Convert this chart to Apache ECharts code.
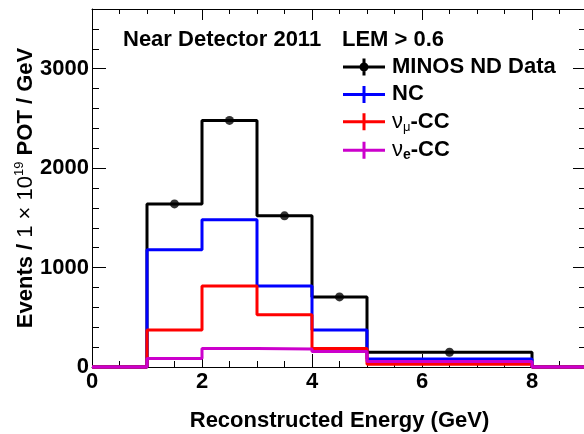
<!DOCTYPE html>
<html>
<head>
<meta charset="utf-8">
<script src="https://cdn.jsdelivr.net/npm/echarts@6/dist/echarts.min.js"></script>
<style>html,body{margin:0;padding:0;background:#fff;}#c{width:584px;height:434px;}</style>
</head>
<body>
<div id="c"></div>
<script>
// Bin edges (GeV) and per-bin contents (events / 1e19 POT / GeV)
const binEdges   = [0, 1, 2, 3, 4, 5, 8, 9];
const dataValues = [0, 1640, 2480, 1520, 705, 148, 0];
const ncValues   = [0, 1178, 1480, 814, 372, 80, 0];
const numuValues = [0, 372, 814, 525, 185, 27, 0];
const nueValues  = [0, 86, 187, 180, 157, 55, 0];

const seriesNames = ['MINOS ND Data', 'NC', 'numu-CC', 'nue-CC'];
const legendLabels = {
  'MINOS ND Data': '{a|MINOS ND Data}',
  'NC': '{a|NC}',
  'numu-CC': '{nu|ν}{sub|μ}{a|-CC}',
  'nue-CC': '{nu|ν}{sube|e}{a|-CC}'
};
const titleText = 'Near Detector 2011';
const cutText = 'LEM > 0.6';
const xTitle = 'Reconstructed Energy (GeV)';

const FONT = '"Liberation Sans", Arial, Helvetica, sans-serif';
const FS = 22;

function stepPoints(vals) {
  const pts = vals.map((v, i) => [binEdges[i], v]);
  pts.push([binEdges[binEdges.length - 1], vals[vals.length - 1]]);
  return pts;
}
function centers(vals) {
  const out = [];
  vals.forEach((v, i) => { if (v > 0) out.push([(binEdges[i] + binEdges[i + 1]) / 2, v]); });
  return out;
}

const crossIcon = 'path://M0,7h42v3H0z M19.5,0h3v17h-3z';
const dataIcon = 'path://M0,7h42v3H0z M19.5,0h3v17h-3z M16.5,8.5a4.5,4.5 0 1,1 9,0a4.5,4.5 0 1,1 -9,0z';

const axisLineStyle = { color: '#000', width: 1 };
const labelStyle = { fontFamily: FONT, fontWeight: 'bold', fontSize: FS, color: '#000' };

function histSeries(name, vals, color) {
  return {
    name: name, type: 'line', step: 'end', data: stepPoints(vals),
    showSymbol: false, symbol: 'none', clip: false,
    lineStyle: { color: color, width: 3 }, itemStyle: { color: color },
    xAxisIndex: 0, yAxisIndex: 0
  };
}
function frameAxis(base, opts) {
  return Object.assign({
    type: 'value', splitLine: { show: false }, axisLabel: { show: false },
    axisLine: { show: false, onZero: false }
  }, base, opts);
}

const xBase = { min: 0, max: 9 };
const yBase = { min: 0, max: 3600 };

const chart = echarts.init(document.getElementById('c'), null, { renderer: 'canvas' });
chart.setOption({
  animation: false,
  backgroundColor: '#fff',
  grid: { left: 92, top: 9, width: 495, height: 358, containLabel: false, outerBoundsMode: 'none' },
  title: [
    { text: titleText, left: 123, top: 29, padding: 0, textStyle: { fontFamily: FONT, fontWeight: 'bold', fontSize: FS, color: '#000' } },
    { text: cutText, left: 342, top: 29, padding: 0, textStyle: { fontFamily: FONT, fontWeight: 'bold', fontSize: FS, color: '#000' } }
  ],
  legend: {
    orient: 'vertical', left: 343, top: 56, padding: 0,
    itemWidth: 42, itemHeight: 17, itemGap: 5.4,
    symbolKeepAspect: true,
    selectedMode: false,
    itemStyle: { borderWidth: 0 },
    data: [
      { name: seriesNames[0], icon: dataIcon },
      { name: seriesNames[1], icon: crossIcon },
      { name: seriesNames[2], icon: crossIcon },
      { name: seriesNames[3], icon: crossIcon }
    ],
    formatter: n => legendLabels[n],
    textStyle: {
      fontFamily: FONT, fontWeight: 'bold', fontSize: FS, color: '#000', padding: [0, 0, 0, 2],
      rich: {
        a: { fontFamily: FONT, fontWeight: 'bold', fontSize: FS, lineHeight: 24, color: '#000' },
        nu: { fontFamily: FONT, fontWeight: 'normal', fontSize: FS, lineHeight: 24, color: '#000' },
        sub: { fontFamily: FONT, fontWeight: 'normal', fontSize: 13, lineHeight: 13, verticalAlign: 'bottom', color: '#000' },
        sube: { fontFamily: FONT, fontWeight: 'bold', fontSize: 14, lineHeight: 14, verticalAlign: 'bottom', color: '#000' }
      }
    }
  },
  xAxis: [
    frameAxis(xBase, {
      interval: 2, position: 'bottom',
      axisLine: { show: true, onZero: false, lineStyle: axisLineStyle },
      axisTick: { show: true, inside: true, length: 13, lineStyle: axisLineStyle },
      axisLabel: Object.assign({ show: true, margin: 4, showMaxLabel: false, formatter: v => String(v) }, labelStyle),
      name: xTitle, nameLocation: 'middle', nameGap: 42,
      nameTextStyle: { fontFamily: FONT, fontWeight: 'bold', fontSize: FS, color: '#000', lineHeight: 24 }
    }),
    frameAxis(xBase, {
      interval: 0.5, position: 'bottom',
      axisTick: { show: true, inside: true, length: 6, lineStyle: axisLineStyle }
    }),
    frameAxis(xBase, {
      interval: 2, position: 'top',
      axisLine: { show: true, onZero: false, lineStyle: axisLineStyle },
      axisTick: { show: true, inside: true, length: 11, lineStyle: axisLineStyle }
    }),
    frameAxis(xBase, {
      interval: 0.5, position: 'top',
      axisTick: { show: true, inside: true, length: 5, lineStyle: axisLineStyle }
    })
  ],
  yAxis: [
    frameAxis(yBase, {
      interval: 1000, position: 'left',
      axisLine: { show: true, onZero: false, lineStyle: axisLineStyle },
      axisTick: { show: true, inside: true, length: 14, lineStyle: axisLineStyle },
      axisLabel: Object.assign({ show: true, margin: 3, showMaxLabel: false, formatter: v => String(v) }, labelStyle),
      name: '{a|Events / }{n|1 × 10}{sup|19}{a| POT / GeV}',
      nameLocation: 'middle', nameRotate: 90, nameGap: 53, nameMoveOverlap: false,
      nameTextStyle: {
        fontFamily: FONT, fontWeight: 'bold', fontSize: FS, color: '#000',
        rich: {
          a: { fontFamily: FONT, fontWeight: 'bold', fontSize: FS, lineHeight: 26, color: '#000' },
          n: { fontFamily: FONT, fontWeight: 'normal', fontSize: FS, lineHeight: 26, color: '#000' },
          sup: { fontFamily: FONT, fontWeight: 'normal', fontSize: 13, lineHeight: 13, verticalAlign: 'top', color: '#000' }
        }
      }
    }),
    frameAxis(yBase, {
      interval: 200, position: 'left',
      axisTick: { show: true, inside: true, length: 7, lineStyle: axisLineStyle }
    }),
    frameAxis(yBase, {
      interval: 1000, position: 'right',
      axisLine: { show: true, onZero: false, lineStyle: axisLineStyle },
      axisTick: { show: true, inside: true, length: 14, lineStyle: axisLineStyle }
    }),
    frameAxis(yBase, {
      interval: 200, position: 'right',
      axisTick: { show: true, inside: true, length: 8, lineStyle: axisLineStyle }
    })
  ],
  series: [
    histSeries(seriesNames[0], dataValues, '#000000'),
    histSeries(seriesNames[1], ncValues, '#0000ff'),
    histSeries(seriesNames[2], numuValues, '#ff0000'),
    histSeries(seriesNames[3], nueValues, '#cc00cc'),
    {
      type: 'scatter', data: centers(dataValues), symbol: 'circle', symbolSize: 9,
      itemStyle: { color: '#000' }, xAxisIndex: 0, yAxisIndex: 0, z: 5
    }
  ]
});
</script>
</body>
</html>
